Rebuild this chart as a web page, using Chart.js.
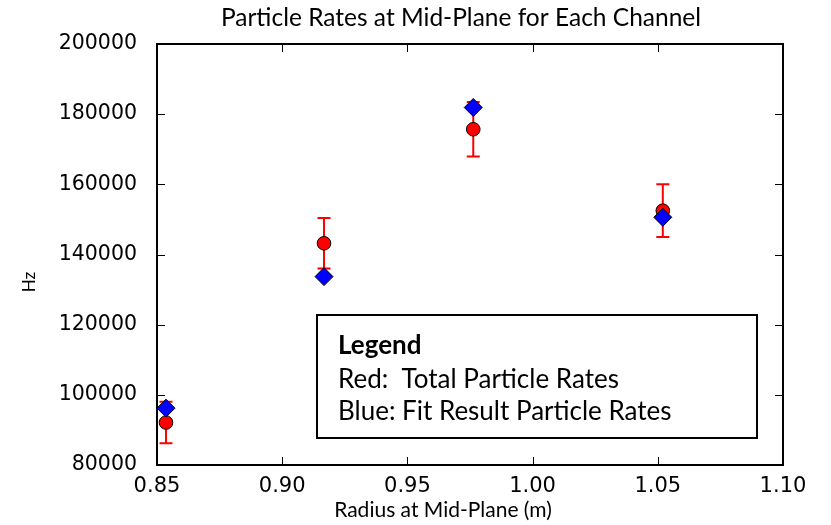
<!DOCTYPE html>
<html>
<head>
<meta charset="utf-8">
<script src="https://cdn.jsdelivr.net/npm/chart.js@4.4.1/dist/chart.umd.min.js"></script>
<style>
  html, body { margin: 0; padding: 0; background: #fff; }
  #wrap { width: 831px; height: 525px; }
</style>
</head>
<body>
<div id="wrap"><canvas id="rates" width="831" height="525"></canvas></div>
<script>
// radius of each channel at the mid-plane (m)
const radius = [0.8536, 0.9167, 0.9763, 1.052]
// measured total rates and their errors (Hz)
const totalRates = [92100, 143200, 175700, 152500]
const totalErr = [5900, 7200, 7800, 7500]
// rates from the fit (Hz)
const fitRates = [96200, 133700, 181900, 150600]

const xTicks = [0.85, 0.90, 0.95, 1.00, 1.05, 1.10]
const yTicks = [80000, 100000, 120000, 140000, 160000, 180000, 200000]

const legendLines = ['Red:  Total Particle Rates', 'Blue: Fit Result Particle Rates']

const textFont = 'Lato, "Open Sans", sans-serif'
const tickFont = '"DejaVu Sans", sans-serif'

// error bars go underneath the markers
const errorBars = {
  id: 'errorBars',
  beforeDatasetsDraw(chart) {
    const { ctx, scales: { x, y } } = chart
    ctx.save()
    ctx.strokeStyle = '#ff0000'
    ctx.lineWidth = 2
    radius.forEach((r, i) => {
      const px = x.getPixelForValue(r)
      const top = y.getPixelForValue(totalRates[i] + totalErr[i])
      const bot = y.getPixelForValue(totalRates[i] - totalErr[i])
      ctx.beginPath()
      ctx.moveTo(px, top); ctx.lineTo(px, bot)
      ctx.moveTo(px - 6.5, top); ctx.lineTo(px + 6.5, top)
      ctx.moveTo(px - 6.5, bot); ctx.lineTo(px + 6.5, bot)
      ctx.stroke()
    })
    ctx.restore()
  }
}

// box frame, inward ticks on all sides, titles and the text box
const frame = {
  id: 'frame',
  afterDraw(chart) {
    const { ctx, chartArea: a, scales: { x, y } } = chart
    ctx.save()
    ctx.strokeStyle = '#000'
    ctx.lineWidth = 1
    ctx.beginPath()
    x.ticks.forEach(t => {
      const px = Math.round(x.getPixelForValue(t.value)) + 0.5
      ctx.moveTo(px, a.bottom); ctx.lineTo(px, a.bottom - 8)
      ctx.moveTo(px, a.top); ctx.lineTo(px, a.top + 8)
    })
    y.ticks.forEach(t => {
      const py = Math.round(y.getPixelForValue(t.value)) + 0.5
      ctx.moveTo(a.left, py); ctx.lineTo(a.left + 8, py)
      ctx.moveTo(a.right, py); ctx.lineTo(a.right - 8, py)
    })
    ctx.stroke()

    ctx.lineWidth = 2
    ctx.strokeRect(a.left, a.top, a.right - a.left, a.bottom - a.top)

    ctx.fillStyle = '#000'
    ctx.textBaseline = 'middle'
    ctx.textAlign = 'center'
    ctx.font = '24.5px ' + textFont
    ctx.fillText('Particle Rates at Mid-Plane for Each Channel', 461, 18)
    ctx.font = '21px ' + textFont
    ctx.fillText('Radius at Mid-Plane (m)', 443, 510)
    ctx.save()
    ctx.translate(30, 282)
    ctx.rotate(-Math.PI / 2)
    ctx.font = '17px ' + textFont
    ctx.fillText('Hz', 0, 0)
    ctx.restore()

    // legend box
    const bx = 317, by = 315, bw = 440, bh = 123
    ctx.fillStyle = '#fff'
    ctx.fillRect(bx, by, bw, bh)
    ctx.strokeRect(bx, by, bw, bh)
    ctx.fillStyle = '#000'
    ctx.textAlign = 'left'
    ctx.font = 'bold 26px ' + textFont
    ctx.fillText('Legend', bx + 21, by + 31)
    ctx.font = '26px ' + textFont
    legendLines.forEach((s, i) => ctx.fillText(s, bx + 21, by + 65 + i * 32))
    ctx.restore()
  }
}

new Chart(document.getElementById('rates'), {
  type: 'scatter',
  data: {
    datasets: [
      {
        label: 'Fit Result Particle Rates',
        data: radius.map((r, i) => ({ x: r, y: fitRates[i] })),
        pointStyle: 'rectRot',
        pointRadius: 9,
        pointHoverRadius: 9,
        backgroundColor: '#0000ff',
        borderColor: '#000',
        borderWidth: 1,
        order: 1
      },
      {
        label: 'Total Particle Rates',
        data: radius.map((r, i) => ({ x: r, y: totalRates[i] })),
        pointStyle: 'circle',
        pointRadius: 6.8,
        pointHoverRadius: 6.8,
        backgroundColor: '#ff0000',
        borderColor: '#000',
        borderWidth: 1,
        order: 2
      }
    ]
  },
  options: {
    responsive: false,
    animation: false,
    layout: { padding: { top: 44, right: 48 } },
    plugins: {
      legend: { display: false },
      tooltip: { enabled: false },
      title: { display: false }
    },
    scales: {
      x: {
        type: 'linear',
        min: 0.85,
        max: 1.10,
        afterBuildTicks: s => { s.ticks = xTicks.map(v => ({ value: v })) },
        afterFit: s => { s.height = 60 },
        grid: { display: false, drawTicks: false },
        border: { display: false },
        ticks: {
          color: '#000',
          padding: 9,
          font: { family: tickFont, size: 21 },
          callback: v => v.toFixed(2)
        }
      },
      y: {
        min: 80000,
        max: 200000,
        afterBuildTicks: s => { s.ticks = yTicks.map(v => ({ value: v })) },
        afterFit: s => { s.width = 157 },
        grid: { display: false, drawTicks: false },
        border: { display: false },
        ticks: {
          color: '#000',
          padding: 20,
          font: { family: tickFont, size: 20.5 },
          callback: v => String(v)
        }
      }
    }
  },
  plugins: [errorBars, frame]
})
</script>
</body>
</html>
